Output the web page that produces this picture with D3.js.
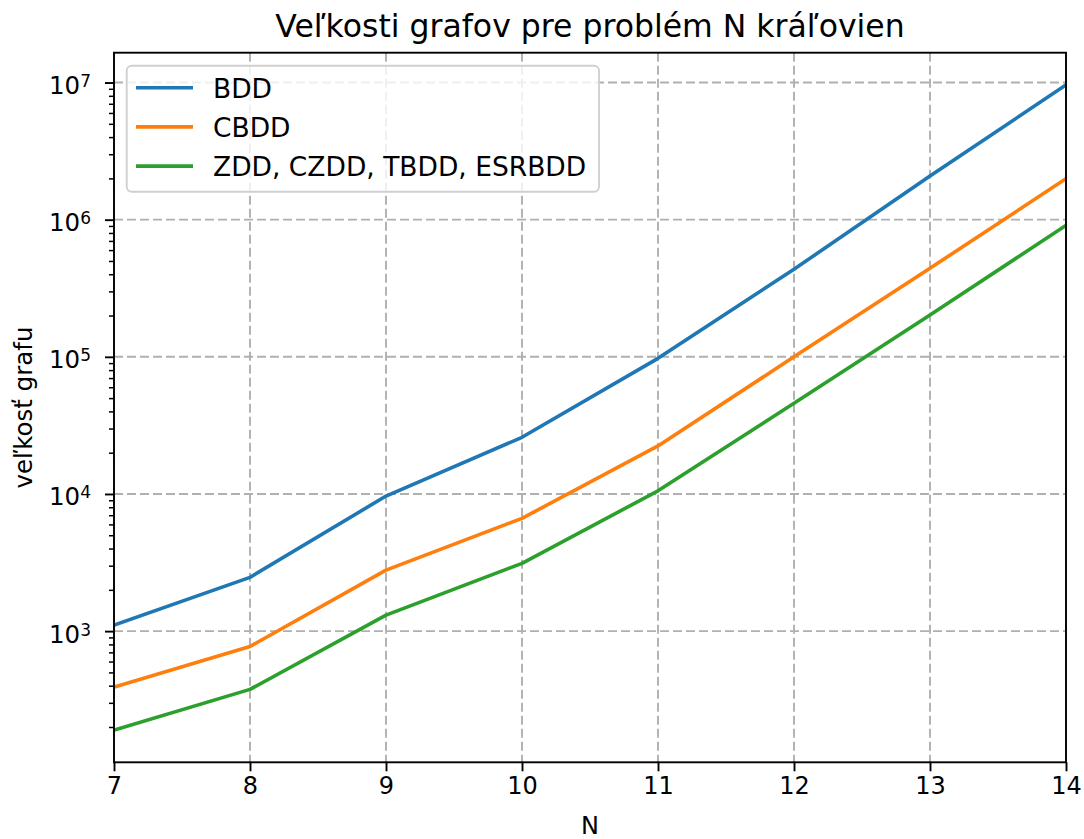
<!DOCTYPE html>
<html>
<head>
<meta charset="utf-8">
<script src="https://cdn.jsdelivr.net/npm/d3@7"></script>
<style>
	body { margin: 0; background: #fff; }
	svg text { font-family: "DejaVu Sans", sans-serif; fill: #000; }
</style>
</head>
<body>
<svg id="chart" width="1084" height="839"></svg>
<script>
// values
let n_values = [7, 8, 9, 10, 11, 12, 13, 14],
	bdd_sizes = [1106, 2466, 9660, 25900, 97500, 435000, 2080000, 9600000],
	cbdd_sizes = [390, 773, 2785, 6640, 22400, 100000, 442000, 1990000],
	zdd_sizes = [190, 376, 1309, 3120, 10540, 45800, 202000, 908000],
	series_names = ['BDD', 'CBDD', 'ZDD, CZDD, TBDD, ESRBDD'],
	series_colors = ['#1f77b4', '#ff7f0e', '#2ca02c'],
	y_tick_exps = [3, 4, 5, 6, 7];

let all_series = [bdd_sizes, cbdd_sizes, zdd_sizes];

function draw_chart() {
	let svg = d3.select('#chart'),
		left = 114,
		right = 1066,
		top = 52.7,
		bottom = 762.3;

	// 5% log margin like matplotlib autoscale
	let all_vals = all_series.flat(),
		lo = Math.log10(d3.min(all_vals)),
		hi = Math.log10(d3.max(all_vals)),
		pad = (hi - lo) * 0.05;

	let xScale = d3.scaleLinear()
		.domain([7, 14])
		.range([left, right]);
	let yScale = d3.scaleLog()
		.domain([Math.pow(10, lo - pad), Math.pow(10, hi + pad)])
		.range([bottom, top]);

	// grid
	let grid = svg.append('g').attr('class', 'grid');
	grid.selectAll('.vgrid')
		.data(n_values).enter()
		.append('line')
		.attr('x1', d => xScale(d))
		.attr('x2', d => xScale(d))
		.attr('y1', top)
		.attr('y2', bottom)
		.attr('stroke', '#b0b0b0')
		.attr('stroke-width', 1.9)
		.attr('stroke-dasharray', '9,4');
	grid.selectAll('.hgrid')
		.data(y_tick_exps).enter()
		.append('line')
		.attr('x1', left)
		.attr('x2', right)
		.attr('y1', d => yScale(Math.pow(10, d)))
		.attr('y2', d => yScale(Math.pow(10, d)))
		.attr('stroke', '#b0b0b0')
		.attr('stroke-width', 1.9)
		.attr('stroke-dasharray', '9,4');

	// lines
	let line = d3.line()
		.x((d, i) => xScale(n_values[i]))
		.y(d => yScale(d));

	svg.append('defs').append('clipPath')
		.attr('id', 'plot_clip')
		.append('rect')
		.attr('x', left).attr('y', top)
		.attr('width', right - left).attr('height', bottom - top);

	svg.append('g')
		.attr('clip-path', 'url(#plot_clip)')
		.selectAll('.series')
		.data(all_series).enter()
		.append('path')
		.attr('class', 'series')
		.attr('d', d => line(d))
		.attr('fill', 'none')
		.attr('stroke', (d, i) => series_colors[i])
		.attr('stroke-width', 3.6)
		.attr('stroke-linejoin', 'round')
		.attr('stroke-linecap', 'square');

	// x axis
	let xAxis = d3.axisBottom(xScale)
		.tickValues(n_values)
		.tickFormat(d3.format('d'))
		.tickSize(9)
		.tickPadding(6);
	let xg = svg.append('g')
		.attr('transform', `translate(0, ${bottom})`)
		.call(xAxis);
	xg.select('.domain').remove();
	xg.selectAll('.tick line').attr('stroke', '#000').attr('stroke-width', 1.9);
	xg.selectAll('.tick text')
		.attr('font-size', 24)
		.attr('font-family', '"DejaVu Sans", sans-serif')
		.attr('fill', '#000');

	// y axis: minor ticks
	let minor_vals = yScale.ticks().filter(v => {
		let e = Math.log10(v);
		return Math.abs(e - Math.round(e)) > 1e-6;
	});
	let yAxisMinor = d3.axisLeft(yScale)
		.tickValues(minor_vals)
		.tickFormat('')
		.tickSize(5);
	let ymg = svg.append('g')
		.attr('transform', `translate(${left}, 0)`)
		.call(yAxisMinor);
	ymg.select('.domain').remove();
	ymg.selectAll('.tick line').attr('stroke', '#000').attr('stroke-width', 1.5);

	let yAxis = d3.axisLeft(yScale)
		.tickValues(y_tick_exps.map(e => Math.pow(10, e)))
		.tickFormat('')
		.tickSize(9);
	let yg = svg.append('g')
		.attr('transform', `translate(${left}, 0)`)
		.call(yAxis);
	yg.select('.domain').remove();
	yg.selectAll('.tick line').attr('stroke', '#000').attr('stroke-width', 1.9);

	let ylab = svg.selectAll('.ytick_label')
		.data(y_tick_exps).enter()
		.append('text')
		.attr('class', 'ytick_label')
		.attr('x', 91)
		.attr('y', d => yScale(Math.pow(10, d)) + 11.5)
		.attr('text-anchor', 'end')
		.attr('font-size', 24.5);
	ylab.append('tspan').text('10');
	ylab.append('tspan')
		.attr('font-size', 17)
		.attr('dy', -7)
		.text(d => d);

	// spines
	svg.append('rect')
		.attr('x', left).attr('y', top)
		.attr('width', right - left).attr('height', bottom - top)
		.attr('fill', 'none')
		.attr('stroke', '#000')
		.attr('stroke-width', 1.9);

	// titles
	svg.append('text')
		.attr('x', (left + right) / 2)
		.attr('y', 37)
		.attr('text-anchor', 'middle')
		.attr('font-size', 31.5)
		.text('Veľkosti grafov pre problém N kráľovien');

	svg.append('text')
		.attr('x', (left + right) / 2)
		.attr('y', 834)
		.attr('text-anchor', 'middle')
		.attr('font-size', 24)
		.text('N');

	svg.append('text')
		.attr('transform', `translate(32, ${(top + bottom) / 2}) rotate(-90)`)
		.attr('text-anchor', 'middle')
		.attr('font-size', 24.5)
		.text('veľkosť grafu');

	// legend
	let legend = svg.append('g').attr('class', 'legend');
	legend.append('rect')
		.attr('x', 126.7).attr('y', 65.7)
		.attr('width', 472.3).attr('height', 126)
		.attr('rx', 5).attr('ry', 5)
		.attr('fill', '#fff')
		.attr('fill-opacity', 0.8)
		.attr('stroke', '#d0d0d0')
		.attr('stroke-width', 1.9);

	let rows = legend.selectAll('.legend_row')
		.data(series_names).enter()
		.append('g')
		.attr('class', 'legend_row')
		.attr('transform', (d, i) => `translate(0, ${87.7 + i * 39.2})`);
	rows.append('line')
		.attr('x1', 136).attr('x2', 193)
		.attr('y1', 0).attr('y2', 0)
		.attr('stroke', (d, i) => series_colors[i])
		.attr('stroke-width', 3.6);
	rows.append('text')
		.attr('x', 213)
		.attr('y', 10)
		.attr('font-size', 26.5)
		.text(d => d);
}

draw_chart();
</script>
</body>
</html>
